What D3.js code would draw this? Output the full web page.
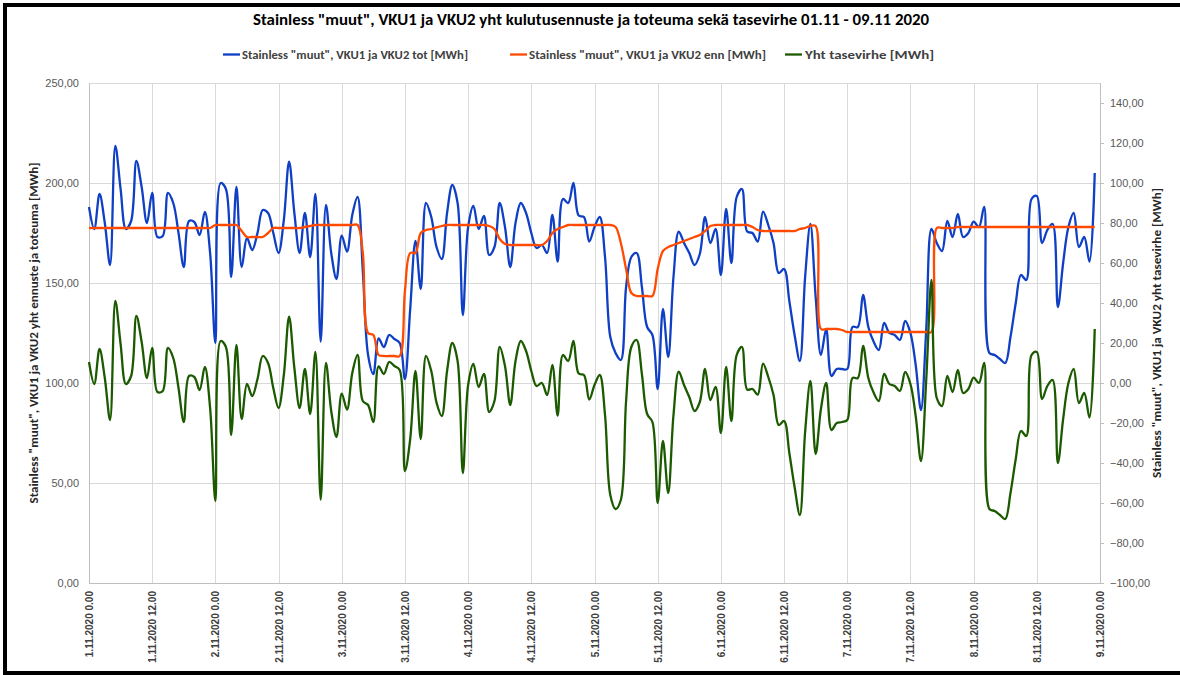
<!DOCTYPE html>
<html><head><meta charset="utf-8">
<script src="https://cdn.jsdelivr.net/npm/d3@7"></script>
<style>body{margin:0;background:#fff}svg{display:block}</style>
</head><body>
<svg id="c" width="1180" height="675"></svg>
<script>
// ---- data (hourly, from 1.11.2020 0:00) ----
const startUTC = Date.UTC(2020, 10, 1, 0);
const endUTC = Date.UTC(2020, 10, 9, 0);
const seriesNames = [
  'Stainless "muut", VKU1 ja VKU2 tot [MWh]',
  'Stainless "muut", VKU1 ja VKU2 enn [MWh]',
  'Yht tasevirhe [MWh]'
];
const totValues = [
188,177,194.5,180,159,218.5,197,177,181,211,198,180,195,173,173.5,195,190,175,158,181,180.5,174,185.5,165,
120,200,197,153,198,158,172.5,166.5,175,186.5,185,175,165,181.5,210.7,185,165,185,163,194.5,120.7,189,165,152,
173.7,165.7,184,193,156,114,104.5,122.3,118,124,122,120,102,137,171,147,190,183,168,162,185,199,190,134,
178,188.5,177,183.5,164,168,190,178,158,180,190,185,175,167.5,169,165,184,160.7,192,190,200,183.7,183,170.7,
178,183,163,123,115,111.5,148,163,165,148,128,124,97,137,113,153,175.7,170,165,159,164.5,183,170,177,
154,187,160,193,197,175.7,175,170.7,185.7,179,170,155,157,141,124,111,153,179.5,143,114,127,103.5,107,107,
107,128,128,144,128,120.7,116.5,130,125,124,121.5,131,125,109,86.5,127,177,170,166,181,173,184.5,173,175,
180.7,178,188,115,114,112,110,123,140,154,151.5,192,193.5,170,176.5,179.5,138,160,178,185,168,173,160.7,205
];
const ennValues = [
177.5,177.5,177.5,177.5,177.5,177.5,177.5,177.5,177.5,177.5,177.5,177.5,177.5,177.5,177.5,177.5,177.5,177.5,177.5,177.5,177.5,177.5,177.5,177.5,
179,179,179,179,179,176,173,173,173,173,175,177.5,177.5,177.5,177.5,177.5,177.5,178,178.5,179,179,179,179,179,
179,179,179,179,165,125,124,114,113.5,113.5,113.5,113.5,146,165,165,175,176.5,177,177.8,178.5,179,179,179,179,
179,179,179,179,178.5,177,172,169.5,169,169,169,169,169,169,169,171,175,177,178,179,179,179,179,179,
179,179,179,179,178,170,157,145,143.5,143.5,143.5,143.5,157,166,168,169,170,171,172,173,174,176,178.5,179,
179,179,179,179,179,179,178,176.5,176,176,176,176,176,176,176,177,177.5,178.5,178.5,127,127,127,127,126.5,
125.5,125.5,125.5,125.5,125.5,125.5,125.5,125.5,125.5,125.5,125.5,125.5,125.5,125.5,125.5,125.5,125.5,177.5,177.5,177.5,177.5,178,178,178,
178,178,178,178,178,178,178,178,178,178,178,178,178,178,178,178,178,178,178,178,178,178,178,178
];
const taseValues = [
10.5,-0.5,17,2.5,-18.5,41,19.5,-0.5,3.5,33.5,20.5,2.5,17.5,-4.5,-4,17.5,12.5,-2.5,-19.5,3.5,3,-3.5,8,-12.5,
-59,21,18,-26,19,-18,-0.5,-6.5,2,13.5,10,-2.5,-12.5,4,33.2,7.5,-12.5,7,-15.5,15.5,-58.3,10,-14,-27,
-5.3,-13.3,5,14,-9,-11,-19.5,8.3,4.5,10.5,8.5,6.5,-44,-28,6,-28,13.5,6,-9.8,-16.5,6,20,11,-45,
-1,9.5,-2,4.5,-14.5,-9,18,8.5,-11,11,21,16,6,-1.5,0,-6,9,-16.3,14,11,21,4.7,4,-8.3,
-1,4,-16,-56,-63,-58.5,-9,18,21.5,4.5,-15.5,-19.5,-60,-29,-55,-16,5.7,-1,-7,-14,-9.5,7,-8.5,-2,
-25,8,-19,14,18,-3.3,-3,-5.8,9.7,3,-6,-21,-19,-35,-52,-66,-24.5,1,-35.5,-13,0,-23.5,-20,-19.5,
-18.5,2.5,2.5,18.5,2.5,-4.8,-9,4.5,-0.5,-1.5,-4,5.5,-0.5,-16.5,-39,1.5,51.5,-7.5,-11.5,3.5,-4.5,6.5,-5,-3,
2.7,0,10,-63,-64,-66,-68,-55,-38,-24,-26.5,14,15.5,-8,-1.5,1.5,-40,-18,0,7,-10,-5,-17.3,27
];
const leftTicks = [0, 50, 100, 150, 200, 250];
const rightTicks = [-100, -80, -60, -40, -20, 0, 20, 40, 60, 80, 100, 120, 140];
const titleText = 'Stainless "muut", VKU1 ja VKU2 yht kulutusennuste ja toteuma sekä tasevirhe 01.11 - 09.11 2020';
const leftTitle = 'Stainless "muut", VKU1 ja VKU2 yht ennuste ja toteuma [MWh]';
const rightTitle = 'Stainless "muut", VKU1 ja VKU2 yht tasevirhe [MWh]';
const colors = ['#0f3fc4', '#ff4a00', '#1c5a00'];

// ---- layout ----
const svg = d3.select('#c');
const FONT = "Carlito, 'Liberation Sans Narrow', 'Liberation Sans', Arial, sans-serif";
const L = 89, R = 1100, T = 83, B = 583;

const dates = totValues.map((_, i) => new Date(startUTC + i * 3600e3));
const x = d3.scaleUtc().domain([new Date(startUTC), new Date(endUTC)]).range([L, R]);
const yL = d3.scaleLinear().domain([0, 250]).range([B, T]);
const yR = d3.scaleLinear().domain([-100, 150]).range([B, T]);
const fmt = v => d3.format('.2f')(v).replace('.', ',');

svg.append('rect').attr('width', 1180).attr('height', 675).attr('fill', '#fff');

// gridlines
const xTicks = d3.utcHour.every(12).range(new Date(startUTC), new Date(endUTC + 1));
svg.append('g').selectAll('line').data(leftTicks).join('line')
  .attr('x1', L).attr('x2', R).attr('y1', d => yL(d) + 0.5).attr('y2', d => yL(d) + 0.5)
  .attr('stroke', '#d9d9d9').attr('stroke-width', 1);
svg.append('g').selectAll('line').data(xTicks).join('line')
  .attr('x1', d => Math.round(x(d)) + 0.5).attr('x2', d => Math.round(x(d)) + 0.5)
  .attr('y1', T).attr('y2', B)
  .attr('stroke', '#d9d9d9').attr('stroke-width', 1);

// axes
const gL = svg.append('g').attr('transform', `translate(${L},0)`)
  .call(d3.axisLeft(yL).tickValues(leftTicks).tickSize(0).tickPadding(10).tickFormat(fmt));
gL.select('.domain').attr('stroke', '#bfbfbf');
const gR = svg.append('g').attr('transform', `translate(${R},0)`)
  .call(d3.axisRight(yR).tickValues(rightTicks).tickSize(4).tickPadding(6).tickFormat(fmt));
gR.select('.domain').attr('stroke', '#bfbfbf').attr('d', `M0.5,${T}V${B}`);
gR.selectAll('.tick line').attr('stroke', '#bfbfbf');
const xFmt = d => `${d.getUTCDate()}.${d.getUTCMonth() + 1}.${d.getUTCFullYear()} ${d.getUTCHours()}.00`;
const gX = svg.append('g').attr('transform', `translate(0,${B})`)
  .call(d3.axisBottom(x).tickValues(xTicks).tickSize(0).tickFormat(xFmt));
gX.select('.domain').attr('stroke', '#bfbfbf');
gX.selectAll('.tick text')
  .attr('transform', 'rotate(-90)').attr('text-anchor', 'end')
  .attr('x', -8).attr('y', 0).attr('dy', '0.35em')
  .attr('font-weight', 'bold').attr('font-size', 10).attr('fill', '#404040')
  .attr('font-family', "'Liberation Sans', Arial, sans-serif");
[gL, gR].forEach(g => g.selectAll('.tick text')
  .attr('font-size', 11).attr('fill', '#595959').attr('font-family', "'Liberation Sans', Arial, sans-serif"));

// lines
const curve = d3.curveCatmullRom.alpha(0.5);
const mk = (vals, sc) => d3.line().x((d, i) => x(dates[i])).y(d => sc(d)).curve(curve)(vals);
svg.append('path').attr('d', mk(totValues, yL)).attr('fill', 'none').attr('stroke', colors[0]).attr('stroke-width', 2.3).attr('stroke-linejoin', 'round');
svg.append('path').attr('d', mk(ennValues, yL)).attr('fill', 'none').attr('stroke', colors[1]).attr('stroke-width', 2.3).attr('stroke-linejoin', 'round');
svg.append('path').attr('d', mk(taseValues, yR)).attr('fill', 'none').attr('stroke', colors[2]).attr('stroke-width', 2.3).attr('stroke-linejoin', 'round');

// title
svg.append('text').attr('x', 591).attr('y', 25).attr('text-anchor', 'middle')
  .attr('font-family', FONT).attr('font-weight', 'bold').attr('font-size', 15).attr('fill', '#000')
  .attr('textLength', 676).attr('lengthAdjust', 'spacingAndGlyphs').text(titleText);

// legend
const legend = [
  {x1: 223, x2: 240, tx: 242, tl: 226},
  {x1: 510, x2: 527, tx: 529, tl: 237},
  {x1: 785, x2: 802, tx: 805, tl: 129}
];
legend.forEach((l, i) => {
  svg.append('line').attr('x1', l.x1).attr('x2', l.x2).attr('y1', 54.5).attr('y2', 54.5)
    .attr('stroke', colors[i]).attr('stroke-width', 2.3);
  svg.append('text').attr('x', l.tx).attr('y', 58.5)
    .attr('font-family', FONT).attr('font-weight', 'bold').attr('font-size', 11).attr('fill', '#404040')
    .attr('textLength', l.tl).attr('lengthAdjust', 'spacingAndGlyphs').text(seriesNames[i]);
});

// axis titles
svg.append('text').attr('transform', 'translate(38,333) rotate(-90)').attr('text-anchor', 'middle')
  .attr('font-family', FONT).attr('font-weight', 'bold').attr('font-size', 12).attr('fill', '#262626')
  .attr('textLength', 341).attr('lengthAdjust', 'spacingAndGlyphs').text(leftTitle);
svg.append('text').attr('transform', 'translate(1161,333) rotate(-90)').attr('text-anchor', 'middle')
  .attr('font-family', FONT).attr('font-weight', 'bold').attr('font-size', 12).attr('fill', '#262626')
  .attr('textLength', 290).attr('lengthAdjust', 'spacingAndGlyphs').text(rightTitle);

// frame
svg.append('rect').attr('x', 5).attr('y', 5).attr('width', 1185).attr('height', 668)
  .attr('fill', 'none').attr('stroke', '#000').attr('stroke-width', 4);
</script>
</body></html>
